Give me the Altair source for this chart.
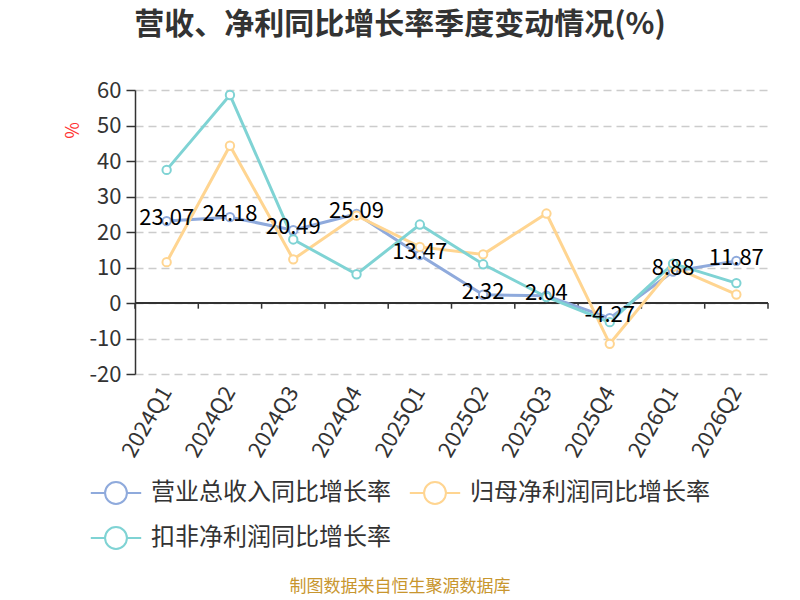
import altair as alt
import pandas as pd

quarters = ["2024Q1", "2024Q2", "2024Q3", "2024Q4", "2025Q1",
            "2025Q2", "2025Q3", "2025Q4", "2026Q1", "2026Q2"]
series_names = ["营业总收入同比增长率", "归母净利润同比增长率", "扣非净利润同比增长率"]
revenue = [23.07, 24.18, 20.49, 25.09, 13.47, 2.32, 2.04, -4.27, 8.88, 11.87]
net_profit = [11.5, 44.3, 12.3, 24.6, 15.8, 13.7, 25.2, -11.5, 10.2, 2.4]
deducted = [37.5, 58.6, 17.9, 8.1, 22.1, 10.9, 1.7, -5.4, 11.1, 5.6]
colors = ["#8FAADC", "#FFD591", "#7FD3D4"]
y_ticks = [-20, -10, 0, 10, 20, 30, 40, 50, 60]
title_text = "营收、净利同比增长率季度变动情况(%)"
footer_text = "制图数据来自恒生聚源数据库"

rows = []
for name, vals in zip(series_names, [revenue, net_profit, deducted]):
    for q, v in zip(quarters, vals):
        rows.append({"q": q, "series": name, "v": v})
df = pd.DataFrame(rows)
rev_df = pd.DataFrame({"q": quarters, "v": revenue, "lab": [f"{v:.2f}" for v in revenue]})
tick_df = pd.DataFrame({"q": quarters})

W, H = 633, 284
FONT = "Noto Sans CJK SC"

# legend is laid out column-major: order entries so rows read as in the reference
legend_order = [series_names[0], series_names[2], series_names[1]]
legend_colors = [colors[0], colors[2], colors[1]]

xscale = alt.Scale(type="band", domain=quarters, paddingInner=0, paddingOuter=0)
yscale = alt.Scale(domain=[-20, 60], nice=False, zero=False)

x_axis = alt.Axis(domain=False, ticks=False, grid=False, labelAngle=-60,
                  labelAlign="right", labelBaseline="middle",
                  labelFontSize=22, labelColor="#333", labelFont=FONT,
                  labelPadding=14, labelOverlap=False)
y_axis = alt.Axis(values=y_ticks, title="%", tickCount=9,
                  labelExpr="toString(datum.value)", labelOverlap=False,
                  titleColor="#FF3333", titleFontSize=18, titleFontWeight="normal",
                  titleFont=FONT,
                  titleX=-62, titleY=40, titleAlign="center", titleBaseline="middle",
                  titleAngle=-90,
                  grid=True, gridDash=[8, 5], gridColor="#CCCCCC", gridWidth=1.5,
                  domainColor="#333", domainWidth=1.5, tickColor="#333", tickSize=9,
                  tickWidth=1.5, labelFontSize=22, labelColor="#333", labelFont=FONT,
                  labelPadding=5)

x_enc = alt.X("q:N", scale=xscale, sort=quarters, title=None, axis=x_axis)
y_enc = alt.Y("v:Q", scale=yscale, title="%", axis=y_axis)

legend_symbol = ("M-1.2,0L-0.52,0M0.52,0L1.2,0M0.52,0A0.52,0.52,0,1,1,-0.52,0"
                 "A0.52,0.52,0,1,1,0.52,0")
color_enc = alt.Color("series:N", sort=legend_order,
                      scale=alt.Scale(domain=legend_order, range=legend_colors),
                      legend=alt.Legend(orient="none", legendX=-41, legendY=381, columns=2,
                                        title=None, symbolType=legend_symbol, symbolSize=1764,
                                        symbolStrokeWidth=2, labelFontSize=24, labelFont=FONT,
                                        labelColor="#333", labelOffset=13, labelLimit=400,
                                        columnPadding=14, rowPadding=8))

base = alt.Chart(df)
lines = base.mark_line(strokeWidth=3).encode(x=x_enc, y=y_enc, color=color_enc,
                                              order=alt.Order("q:N"))
points = base.mark_point(shape="circle", filled=False, fill="white", fillOpacity=1,
                         size=70, strokeWidth=2, opacity=1).encode(
    x=x_enc, y=y_enc, color=color_enc)

labels = alt.Chart(rev_df).mark_text(fontSize=22, font=FONT, color="#000",
                                     baseline="middle", dy=-3).encode(
    x=x_enc, y=y_enc, text="lab:N")

zero_line = alt.Chart(tick_df).mark_rule(color="#333", strokeWidth=1.5).encode(
    y=alt.YDatum(0, scale=yscale, axis=y_axis, title="%"), x=alt.value(0), x2=alt.value(W))
ticks0 = alt.Chart(tick_df).mark_rule(color="#333", strokeWidth=1.5).encode(
    x=alt.X("q:N", scale=xscale, sort=quarters, bandPosition=0, title=None, axis=x_axis),
    y=alt.YDatum(0, scale=yscale, axis=y_axis, title="%"), y2=alt.Y2Datum(-1.6))
ticks1 = alt.Chart(tick_df.tail(1)).mark_rule(color="#333", strokeWidth=1.5).encode(
    x=alt.X("q:N", scale=xscale, sort=quarters, bandPosition=1, title=None, axis=x_axis),
    y=alt.YDatum(0, scale=yscale, axis=y_axis, title="%"), y2=alt.Y2Datum(-1.6))

footer = alt.Chart(tick_df.head(1)).mark_text(fontSize=17, font=FONT, color="#C8962E",
                                              align="center", baseline="middle").encode(
    x=alt.value(400 - 135), y=alt.value(587 - 90), text=alt.value(footer_text))
title = alt.Chart(tick_df.head(1)).mark_text(fontSize=30, font=FONT, fontWeight="bold",
                                             color="#333", align="center",
                                             baseline="middle").encode(
    x=alt.value(400 - 135), y=alt.value(25 - 90), text=alt.value(title_text))

chart = alt.layer(zero_line, ticks0, ticks1, lines, points, labels, footer, title).properties(
    width=W, height=H,
    background="white",
    autosize=alt.AutoSizeParams(type="none"),
    padding={"left": 127, "top": 82, "right": 24, "bottom": 224},
).configure_view(strokeWidth=0, stroke="transparent")

chart.save("out.html", embed_options={"renderer": "svg", "actions": False})
